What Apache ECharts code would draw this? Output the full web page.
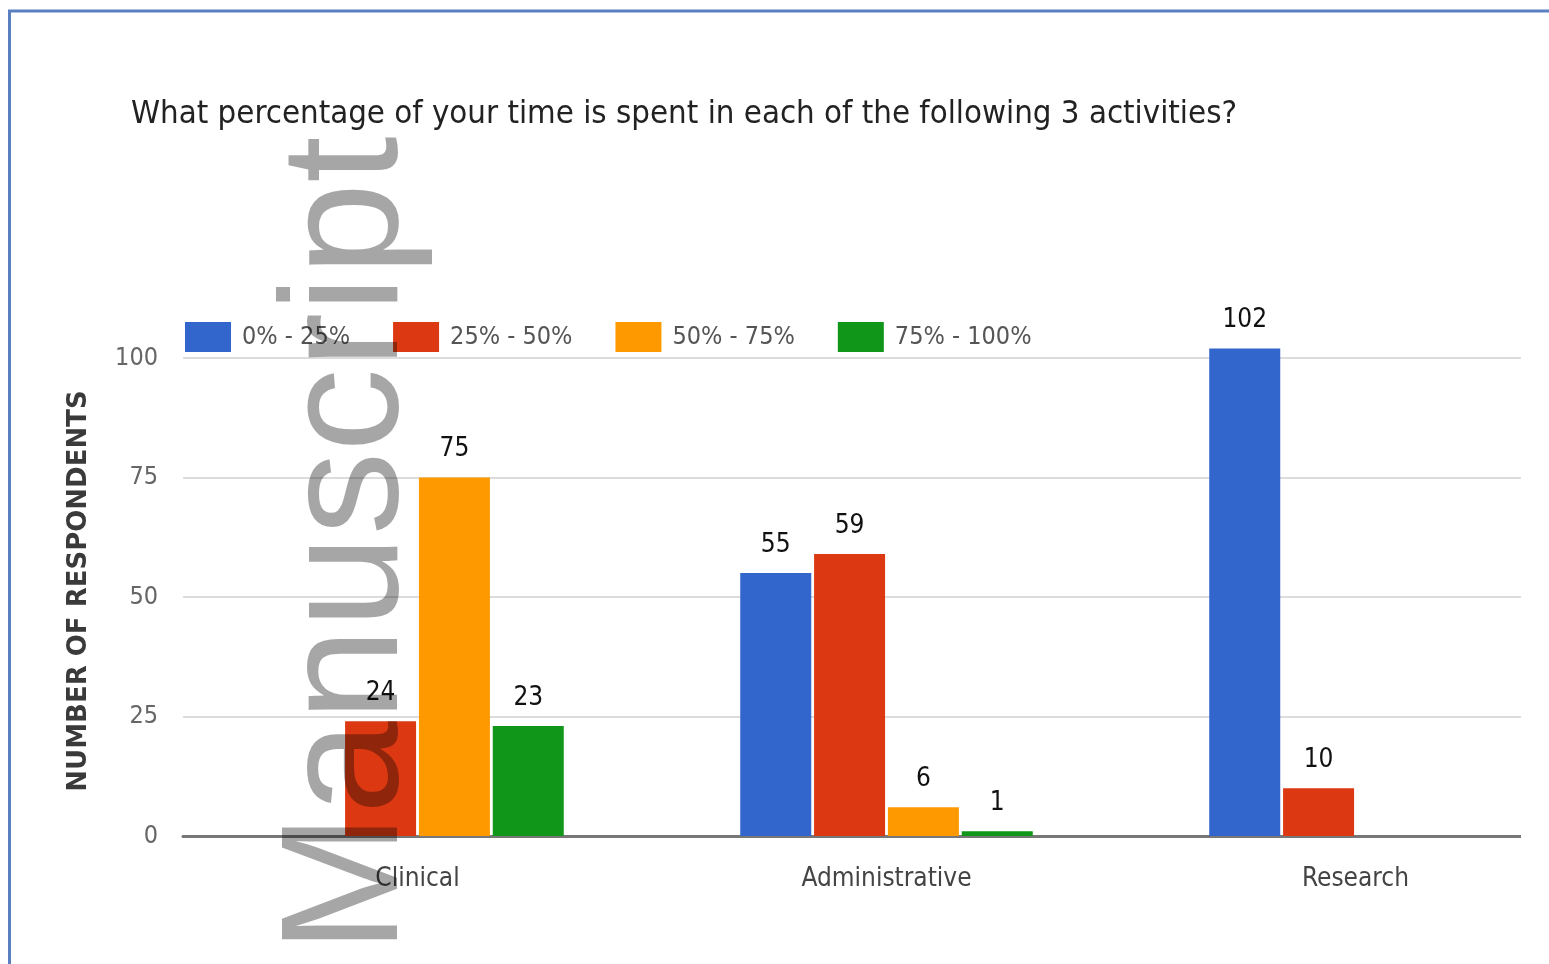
<!DOCTYPE html>
<html>
<head>
<meta charset="utf-8">
<script src="https://cdn.jsdelivr.net/npm/echarts@6/dist/echarts.min.js"></script>
<style>
html,body{margin:0;padding:0;background:#fff;}
#chart{width:1549px;height:964px;}
</style>
</head>
<body>
<div id="chart"></div>
<script>
const categories = ['Clinical', 'Administrative', 'Research'];
const seriesNames = ['0% - 25%', '25% - 50%', '50% - 75%', '75% - 100%'];
const pct0to25 = [null, 55, 102];
const pct25to50 = [24, 59, 10];
const pct50to75 = [75, 6, null];
const pct75to100 = [23, 1, null];
const yTicks = [0, 25, 50, 75, 100];
const titleText = 'What percentage of your time is spent in each of the following 3 activities?';
const yAxisTitle = 'NUMBER OF RESPONDENTS';
const watermarkText = 'Manuscript';

const colors = ['#3366cc', '#dc3912', '#ff9900', '#109618'];
const narrow = "'Liberation Sans Narrow', 'DejaVu Sans Condensed', 'Liberation Sans', sans-serif";
const values = [pct0to25, pct25to50, pct50to75, pct75to100];

const chart = echarts.init(document.getElementById('chart'), null, {renderer: 'canvas'});

const series = values.map((vals, i) => ({
  name: seriesNames[i],
  type: 'bar',
  data: vals,
  barWidth: 71,
  barGap: '4%',
  clip: false,
  itemStyle: {color: colors[i]},
  label: {
    show: true,
    position: 'top',
    distance: 15,
    color: '#111',
    fontFamily: narrow,
    fontSize: 26
  }
}));

chart.setOption({
  animation: false,
  backgroundColor: '#ffffff',
  title: {
    text: titleText,
    left: 126,
    top: 93,
    textStyle: {fontFamily: narrow, fontSize: 32.7, fontWeight: 'normal', color: '#222'}
  },
  legend: {
    data: seriesNames,
    left: 180,
    top: 317,
    itemWidth: 46,
    itemHeight: 30,
    itemGap: 43,
    icon: 'rect',
    textStyle: {fontFamily: narrow, fontSize: 25, color: '#555', padding: [0, 0, 0, 6]}
  },
  grid: {left: 183, top: 358, width: 1407, height: 478, containLabel: false, outerBoundsMode: 'none'},
  xAxis: {
    type: 'category',
    data: categories,
    axisTick: {show: false},
    axisLine: {show: true, lineStyle: {color: '#777', width: 3}},
    axisLabel: {margin: 30, fontFamily: narrow, fontSize: 26, color: '#444'}
  },
  yAxis: {
    type: 'value',
    min: 0,
    max: 100,
    interval: 25,
    name: yAxisTitle,
    nameLocation: 'middle',
    nameGap: 91,
    nameRotate: 90,
    nameTextStyle: {fontFamily: "'DejaVu Sans', sans-serif", fontSize: 26, fontWeight: 'bold', color: '#3a3a3a', padding: [0, 0, 0, 12]},
    axisLine: {show: false},
    axisTick: {show: false},
    axisLabel: {
      margin: 25,
      fontFamily: narrow,
      fontSize: 25,
      color: '#666',
      formatter: v => (yTicks.indexOf(v) >= 0 ? String(v) : '')
    },
    splitLine: {lineStyle: {color: '#dcdcdc', width: 2}}
  },
  series: series,
  graphic: [
    {type: 'rect', z: 50, shape: {x: 1521, y: 330, width: 40, height: 530}, style: {fill: '#ffffff'}},
    {type: 'rect', z: 60, shape: {x: 9.5, y: 11, width: 1600, height: 1000}, style: {fill: 'none', stroke: '#5b80c2', lineWidth: 3}},
    {
      type: 'text', z: 100, x: 351, y: 953, rotation: Math.PI / 2,
      style: {
        text: watermarkText,
        fontFamily: "'Liberation Sans', Arial, sans-serif",
        fontSize: 167,
        fill: 'rgba(0,0,0,0.35)',
        align: 'left',
        verticalAlign: 'middle'
      }
    }
  ]
});
</script>
</body>
</html>
